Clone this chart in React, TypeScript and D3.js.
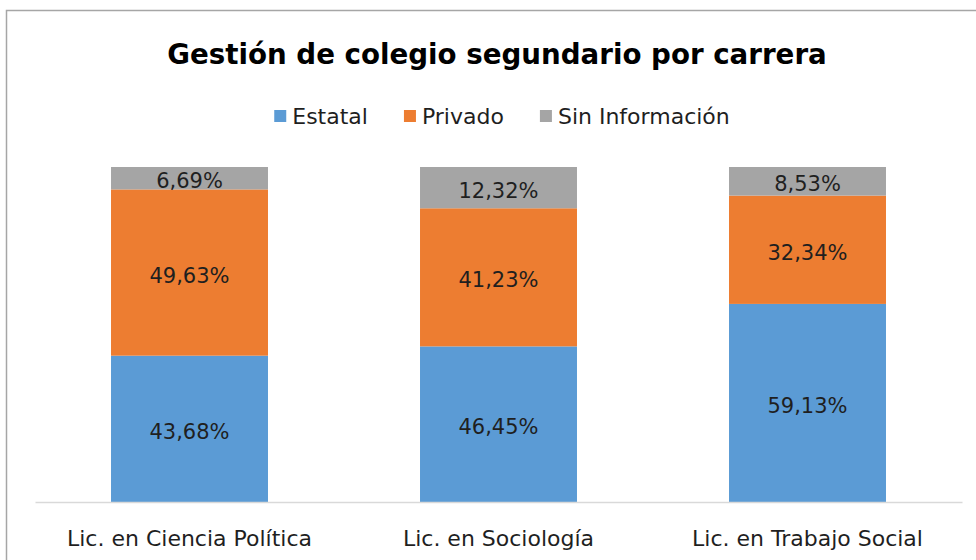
import React, { useEffect, useRef } from "react";
import * as d3 from "d3";

const categories = [
  "Lic. en Ciencia Política",
  "Lic. en Sociología",
  "Lic. en Trabajo Social",
];
const seriesNames = ["Estatal", "Privado", "Sin Información"];
const estatal = [43.68, 46.45, 59.13];
const privado = [49.63, 41.23, 32.34];
const sinInfo = [6.69, 12.32, 8.53];
const colors = ["#5B9BD5", "#ED7D31", "#A5A5A5"];

const fmt = (v: number) => v.toFixed(2).replace(".", ",") + "%";

export default function App() {
  const svgRef = useRef<SVGSVGElement | null>(null);

  useEffect(() => {
    const w = 976;
    const h = 560;
    const font = "'DejaVu Sans', sans-serif";

    const svg = d3.select(svgRef.current).attr("width", w).attr("height", h);
    svg.selectAll("*").remove();

    svg.append("rect").attr("width", w).attr("height", h).attr("fill", "#fff");

    // outer chart border (right/bottom edges fall outside the picture)
    svg
      .append("rect")
      .attr("x", 6.5)
      .attr("y", 10.5)
      .attr("width", 1000)
      .attr("height", 600)
      .attr("fill", "none")
      .attr("stroke", "#a6a6a6")
      .attr("stroke-width", 1.5);

    // title
    svg
      .append("text")
      .attr("x", 497)
      .attr("y", 64)
      .attr("text-anchor", "middle")
      .style("font-family", font)
      .style("font-weight", "bold")
      .style("font-size", "27.7px")
      .attr("fill", "#000")
      .text("Gestión de colegio segundario por carrera");

    // scales
    const xScale = d3.scaleBand().domain(categories).range([35, 962]).padding(0);
    const yScale = d3.scaleLinear().domain([0, 100]).range([502, 167]);
    const barW = xScale.bandwidth() * 0.508;

    const rows = categories.map((c, i) => ({
      cat: c,
      Estatal: estatal[i],
      Privado: privado[i],
      "Sin Información": sinInfo[i],
    }));
    const stacked = d3.stack<any>().keys(seriesNames)(rows);

    const layers = svg
      .selectAll(".layer")
      .data(stacked)
      .join("g")
      .attr("fill", (d, i) => colors[i]);

    layers
      .selectAll("rect")
      .data((d) => d)
      .join("rect")
      .attr("x", (d: any) => xScale(d.data.cat)! + (xScale.bandwidth() - barW) / 2)
      .attr("y", (d) => yScale(d[1]))
      .attr("width", barW)
      .attr("height", (d) => yScale(d[0]) - yScale(d[1]));

    layers
      .selectAll("text")
      .data((d) => d.map((s) => ({ s, key: d.key })))
      .join("text")
      .attr("x", (d: any) => xScale(d.s.data.cat)! + xScale.bandwidth() / 2)
      .attr("y", (d: any) => (yScale(d.s[0]) + yScale(d.s[1])) / 2)
      .attr("dy", "0.48em")
      .attr("text-anchor", "middle")
      .attr("fill", "#1f1f1f")
      .style("font-family", font)
      .style("font-size", "21px")
      .text((d: any) => fmt(d.s.data[d.key]));

    // category axis
    const xAxis = d3.axisBottom(xScale).tickSize(0).tickPadding(0);
    const gx = svg.append("g").attr("transform", "translate(0, 502)").call(xAxis);
    gx.select(".domain").attr("stroke", "#d9d9d9").attr("stroke-width", 1.5);
    gx.selectAll("text")
      .attr("y", 44)
      .attr("dy", null)
      .attr("fill", "#1f1f1f")
      .style("font-family", font)
      .style("font-size", "22px");

    // legend
    const legend = svg.append("g");
    const items = legend
      .selectAll("g")
      .data(seriesNames)
      .join("g");
    items
      .append("rect")
      .attr("width", 12)
      .attr("height", 12)
      .attr("y", 110)
      .attr("fill", (d, i) => colors[i]);
    items
      .append("text")
      .attr("x", 18)
      .attr("y", 124)
      .attr("fill", "#1f1f1f")
      .style("font-family", font)
      .style("font-size", "22px")
      .text((d) => d);

    let x = 0;
    const gap = 36;
    items.each(function () {
      const g = d3.select(this);
      g.attr("transform", `translate(${x},0)`);
      const tw = (g.select("text").node() as SVGTextElement).getComputedTextLength();
      x += 18 + tw + gap;
    });
    const totalW = x - gap;
    legend.attr("transform", `translate(${502 - totalW / 2},0)`);
  }, []);

  return (
    <div>
      <svg ref={svgRef} style={{ position: "absolute", left: 0, top: 0 }}></svg>
    </div>
  );
}
